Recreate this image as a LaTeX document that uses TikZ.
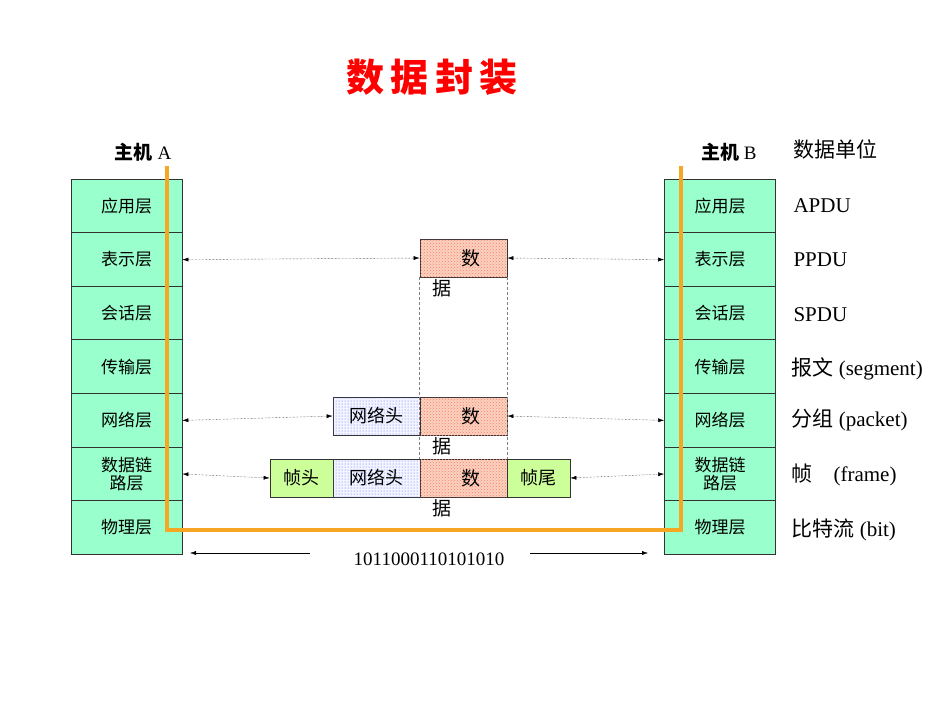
\documentclass[tikz,border=0pt]{standalone}
\usepackage{fontspec}
\setmainfont{Liberation Serif}
\newfontfamily\cjk{Noto Sans CJK SC}
\usetikzlibrary{patterns,arrows.meta}
\definecolor{teal1}{HTML}{99FFCC}
\definecolor{org}{HTML}{F5A623}
\definecolor{salm}{HTML}{FAD2BE}
\definecolor{pale}{HTML}{F2F4FF}
\definecolor{lime}{HTML}{CCFF99}
\tikzset{
 layer/.style={draw=black!80,fill=teal1,thick,minimum width=111pt,minimum height=54pt,inner sep=0pt,font=\cjk\fontsize{17}{19}\selectfont},
 pkt/.style={draw=black!80,thick,minimum height=38pt,inner sep=0pt,font=\cjk\fontsize{18}{20}\selectfont},
 darr/.style={densely dotted,{Latex[length=6pt,width=4pt]}-{Latex[length=6pt,width=4pt]}},
 unit/.style={anchor=west,font=\fontsize{21}{24}\selectfont}
}
\begin{document}
\begin{tikzpicture}[x=1pt,y=-1pt]
\useasboundingbox (0,0) rectangle (950,713);
\node[text=red,font=\cjk\bfseries\fontsize{38}{40}\selectfont] (title) at (432,77) {数\,据\,封\,装};
\node[font=\fontsize{19}{22}\selectfont,anchor=east] (ha) at (175,152) {{\cjk\bfseries 主机} A};
\node[font=\fontsize{19}{22}\selectfont,anchor=east] (hb) at (760,152) {{\cjk\bfseries 主机} B};
\foreach \n/\t [count=\i] in {a/应用层,b/表示层,c/会话层,d/传输层,e/网络层,f/{\shortstack{数据链\\路层}},g/物理层}{
 \node[layer] (L\n) at (126.5,{179+27+53.6*(\i-1)}) {\t};
 \node[layer] (R\n) at (720,{179+27+53.6*(\i-1)}) {\t};
}
\coordinate (o1) at (167,166); \coordinate (o2) at (167,530);
\coordinate (o3) at (681,530); \coordinate (o4) at (681,166);
\draw[org,line width=3.5pt] (o1)--(o2)--(o3)--(o4);
% packets
\node[pkt,minimum width=87pt,fill=salm,postaction={pattern=crosshatch dots,pattern color=salm!60!red}] (d1) at (463.5,258) {};
\node[pkt,minimum width=87pt,fill=salm,postaction={pattern=crosshatch dots,pattern color=salm!60!red}] (d2) at (463.5,416) {};
\node[pkt,minimum width=87pt,fill=pale,postaction={pattern=dots,pattern color=blue!60}] (n2) at (376.5,416) {网络头};
\node[pkt,minimum width=63pt,fill=lime] (fh) at (301.5,478) {帧头};
\node[pkt,minimum width=87pt,fill=pale,postaction={pattern=dots,pattern color=blue!60}] (n3) at (376.5,478) {网络头};
\node[pkt,minimum width=87pt,fill=salm,postaction={pattern=crosshatch dots,pattern color=salm!60!red}] (d3) at (463.5,478) {};
\node[pkt,minimum width=63pt,fill=lime] (ft) at (538.5,478) {帧尾};
\foreach \d in {d1,d2,d3}{
 \node[font=\cjk\fontsize{19}{21}\selectfont] at ([xshift=7pt]\d.center) {数};
 \node[font=\cjk\fontsize{19}{21}\selectfont] at ([xshift=-22pt,yshift=-30pt]\d.center) {据};
}
\draw[densely dashed,gray] (d1.south west)--(d3.north west);
\draw[densely dashed,gray] (d1.south east)--(d3.north east);
% arrows
\draw[darr] (Lb.east)--(d1.west); \draw[darr] (d1.east)--(Rb.west);
\draw[darr] (Le.east)--(n2.west); \draw[darr] (d2.east)--(Re.west);
\draw[darr] (Lf.east)--(fh.west); \draw[darr] (ft.east)--(Rf.west);
\node[font=\fontsize{19}{22}\selectfont] (bits) at (429,559) {1011000110101010};
\coordinate (b1) at (190,553); \coordinate (b2) at (648,553);
\draw[{Latex[length=6pt,width=4pt]}-] (b1)--(310,553);
\draw[-{Latex[length=6pt,width=4pt]}] (530,553)--(b2);
% units
\node[unit] (u0) at (790,149) {\cjk 数据单位};
\node[unit] (u1) at (790,206) {APDU};
\node[unit] (u2) at (790,260) {PPDU};
\node[unit] (u3) at (790,315) {SPDU};
\node[unit] (u4) at (788,369) {{\cjk 报文} (segment)};
\node[unit] (u5) at (788,420) {{\cjk 分组} (packet)};
\node[unit] (u6) at (788,475) {{\cjk 帧}\quad(frame)};
\node[unit] (u7) at (788,530) {{\cjk 比特流} (bit)};
\end{tikzpicture}
\end{document}
